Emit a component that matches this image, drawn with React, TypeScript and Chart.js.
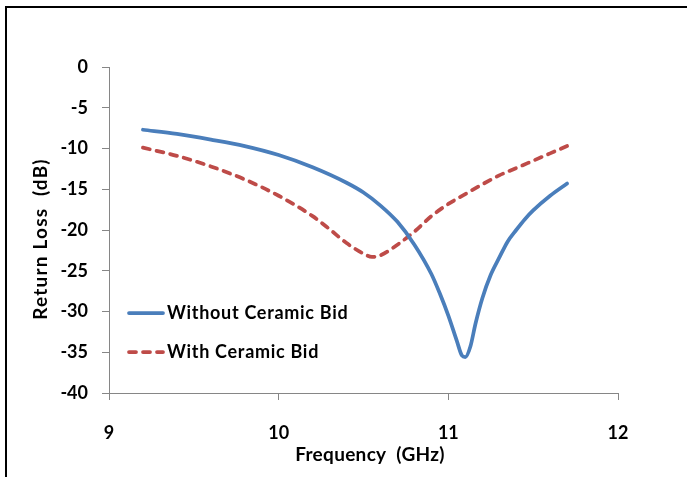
import React, { useEffect, useRef } from "react";
import { Chart, registerables } from "chart.js";

Chart.register(...registerables);

const withoutFreq = [9.2, 9.4, 9.6, 9.8, 10.0, 10.2, 10.4, 10.5, 10.6, 10.7, 10.8, 10.9, 10.95, 11.0, 11.05, 11.08, 11.1, 11.13, 11.16, 11.2, 11.25, 11.3, 11.35, 11.4, 11.45, 11.5, 11.6, 11.7];
const withoutLoss = [-7.7, -8.2, -8.9, -9.7, -10.8, -12.3, -14.2, -15.4, -17.0, -19.0, -21.8, -25.4, -27.8, -30.5, -33.6, -35.4, -35.6, -34.3, -31.5, -28.4, -25.5, -23.4, -21.4, -20.0, -18.7, -17.6, -15.8, -14.3];

const withFreq = [9.2, 9.4, 9.6, 9.8, 10.0, 10.2, 10.3, 10.4, 10.5, 10.55, 10.6, 10.7, 10.8, 10.9, 11.0, 11.1, 11.2, 11.3, 11.4, 11.5, 11.6, 11.7];
const withLoss = [-9.9, -10.9, -12.2, -13.8, -15.8, -18.3, -19.9, -21.6, -22.9, -23.3, -23.1, -21.8, -20.2, -18.3, -16.8, -15.6, -14.4, -13.3, -12.4, -11.5, -10.6, -9.7];

const seriesNames = ["Without Ceramic Bid", "With Ceramic Bid"];
const xTitle = "Frequency  (GHz)";
const yTitle = "Return Loss  (dB)";
const xMin = 9, xMax = 12, xStep = 1;
const yMin = -40, yMax = 0, yStep = 5;

const BLUE = "#4A7EBB";
const RED = "#BE4B48";
const AXIS = "#868686";
const FONT = "Lato, 'Open Sans', sans-serif";

export default function App() {
  const ref = useRef<HTMLCanvasElement | null>(null);
  useEffect(() => {
    const canvas = ref.current!;
    const overlay = {
      id: "overlay",
      afterDraw(chart: any) {
        const ctx = chart.ctx;
        ctx.save();
        const items = [
          { name: seriesNames[0], color: BLUE, dash: [] as number[], y: 313 },
          { name: seriesNames[1], color: RED, dash: [7, 7], y: 352 },
        ];
        items.forEach((it) => {
          ctx.beginPath();
          ctx.strokeStyle = it.color;
          ctx.lineWidth = 3.75;
          ctx.lineCap = "round";
          ctx.setLineDash(it.dash);
          ctx.moveTo(129, it.y);
          ctx.lineTo(163, it.y);
          ctx.stroke();
          ctx.setLineDash([]);
          ctx.fillStyle = "#000";
          ctx.font = `bold 18px ${FONT}`;
          (ctx as any).letterSpacing = "0.7px";
          ctx.textAlign = "left";
          ctx.textBaseline = "middle";
          ctx.fillText(it.name, 167, it.y);
        });
        ctx.fillStyle = "#000";
        ctx.font = `bold 19px ${FONT}`;
        (ctx as any).letterSpacing = "0.3px";
        ctx.textAlign = "center";
        ctx.textBaseline = "middle";
        ctx.fillText(xTitle, 370, 455);
        (ctx as any).letterSpacing = "1.2px";
        ctx.translate(41, 239);
        ctx.rotate(-Math.PI / 2);
        ctx.fillText(yTitle, 0, 0);
        ctx.restore();
      },
    };
    const chart = new Chart(canvas, {
      type: "line",
      data: {
        datasets: [
          {
            label: seriesNames[0],
            data: withoutFreq.map((f, i) => ({ x: f, y: withoutLoss[i] })),
            borderColor: BLUE,
            borderWidth: 3.75,
            pointRadius: 0,
            cubicInterpolationMode: "monotone",
            borderCapStyle: "round",
            fill: false,
          },
          {
            label: seriesNames[1],
            data: withFreq.map((f, i) => ({ x: f, y: withLoss[i] })),
            borderColor: RED,
            borderWidth: 3.75,
            borderDash: [7, 7],
            borderCapStyle: "round",
            pointRadius: 0,
            cubicInterpolationMode: "monotone",
            fill: false,
          },
        ],
      },
      options: {
        responsive: false,
        animation: false,
        layout: { padding: { left: 0, top: 67, right: 69, bottom: 0 } },
        plugins: { legend: { display: false }, tooltip: { enabled: false } },
        scales: {
          x: {
            type: "linear",
            min: xMin,
            max: xMax,
            ticks: { stepSize: xStep, color: "#000", font: { family: FONT, size: 18, weight: "bold" }, padding: 22 },
            grid: { drawOnChartArea: false, drawTicks: true, tickLength: 7, color: AXIS },
            border: { color: AXIS },
            afterFit: (s: any) => { s.height = 84; },
          },
          y: {
            type: "linear",
            min: yMin,
            max: yMax,
            ticks: { stepSize: yStep, color: "#000", font: { family: FONT, size: 18, weight: "bold" }, padding: 14 },
            grid: { drawOnChartArea: false, drawTicks: true, tickLength: 7, color: AXIS },
            border: { color: AXIS },
            afterFit: (s: any) => { s.width = 109; },
          },
        },
      },
      plugins: [overlay],
    } as any);
    return () => chart.destroy();
  }, []);
  return (
    <div style={{ position: "fixed", left: 0, top: 0, width: 687, height: 477, background: "#fff", overflow: "hidden" }}>
      <div style={{ position: "absolute", left: 5, top: 6, width: 720, height: 520, border: "2px solid #000", boxSizing: "border-box" }} />
      <canvas ref={ref} width={687} height={477} style={{ position: "absolute", left: 0, top: 0, width: 687, height: 477 }} />
    </div>
  );
}
